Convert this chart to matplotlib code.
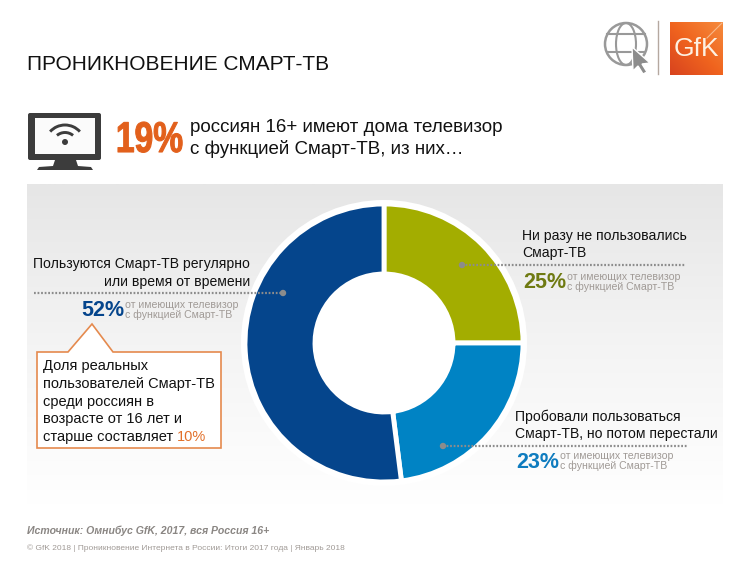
import numpy as np
import matplotlib
matplotlib.use('Agg')
import matplotlib.pyplot as plt
import matplotlib.patheffects as pe
from matplotlib.colors import LinearSegmentedColormap
from matplotlib.patches import Rectangle, Circle, Polygon, FancyBboxPatch, Ellipse, Arc
from matplotlib.transforms import Affine2D

plt.rcParams['font.family'] = ['Liberation Sans', 'DejaVu Sans']

segment_names = ['Ни разу не пользовались', 'Пробовали пользоваться', 'Пользуются регулярно']
segment_values = [25, 23, 52]
segment_colors = ['#a3ad00', '#0083c4', '#05458c']


class SqueezeX(pe.AbstractPathEffect):
    # no condensed bold font here, so squeeze the glyphs of a normal one
    def __init__(self, sx, dx, lw):
        super().__init__()
        self.sx = sx
        self.dx = dx
        self.lw = lw

    def draw_path(self, renderer, gc, tpath, affine, rgbFace=None):
        gc0 = renderer.new_gc()
        gc0.copy_properties(gc)
        gc0.set_linewidth(self.lw)
        gc0.set_foreground(rgbFace)
        squeezed = Affine2D().scale(self.sx, 1) + affine + Affine2D().translate(self.dx, 0)
        renderer.draw_path(gc0, tpath, squeezed, rgbFace)
        gc0.restore()


W, H = 750, 563
fig = plt.figure(figsize=(W / 100, H / 100), dpi=100, facecolor='white')

# pixel axes for all the decoration, y goes down like in the picture
bg = fig.add_axes([0, 0, 1, 1])

# grey panel fading to white
grad = np.linspace(0, 1, 256).reshape(-1, 1)
bg.imshow(grad, extent=(27, 723, 505, 184), aspect='auto', vmin=0, vmax=1, zorder=0,
          cmap=LinearSegmentedColormap.from_list('panel', ['#e6e6e6', '#f4f4f4', '#ffffff']))

# logo square
logo = np.linspace(0, 1, 64)[None, :] * 0.5 + np.linspace(1, 0, 64)[:, None] * 0.5
bg.imshow(logo, extent=(670, 723, 75, 22), aspect='auto', zorder=2, vmin=0, vmax=1,
          cmap=LinearSegmentedColormap.from_list('logo', ['#d8431f', '#f0641e', '#f58a3c']))
bg.set_xlim(0, W)
bg.set_ylim(H, 0)
bg.axis('off')
bg.plot([707, 722], [38, 23], color='#f8b98a', lw=0.8, zorder=3)
bg.text(696, 49, 'GfK', fontsize=19, color='#fdf1e2', va='center', ha='center', zorder=3)

bg.text(27, 64, 'ПРОНИКНОВЕНИЕ СМАРТ-ТВ', fontsize=15, color='#111111', va='center', ha='left')

# tv icon
dark = '#3c3c3c'
bg.add_patch(FancyBboxPatch((28, 113), 73, 47, boxstyle='round,pad=0,rounding_size=2', fc=dark, ec='none', zorder=2))
bg.add_patch(Rectangle((35, 118), 60, 36, fc='#fbfbfb', ec='none', zorder=3))
bg.add_patch(Polygon([(55, 160), (76, 160), (78, 166), (91, 167), (93, 170), (37, 170), (39, 167), (53, 166)],
                     fc=dark, ec='none', zorder=2))
bg.add_patch(Circle((65, 142), 3, fc=dark, ec='none', zorder=4))
bg.add_patch(Arc((65, 145), 40, 40, theta1=222, theta2=318, ec=dark, lw=2.1, zorder=4))
bg.add_patch(Arc((65, 145), 25, 25, theta1=230, theta2=310, ec=dark, lw=2.1, zorder=4))

# headline
bg.text(185, 141, '19%', fontsize=31, fontweight='bold', color='#e2601c', va='center', ha='right',
        path_effects=[SqueezeX(0.78, 17, 0.8)])
bg.text(190, 127, 'россиян 16+ имеют дома телевизор', fontsize=13.5, color='#111111', va='center')
bg.text(190, 149, 'с функцией Смарт-ТВ, из них…', fontsize=13.5, color='#111111', va='center')

# globe + cursor
gc = '#999999'
bg.add_patch(Circle((626, 44), 21, fc='none', ec=gc, lw=1.8, zorder=2))
bg.add_patch(Ellipse((626, 44), 20, 42, fc='none', ec=gc, lw=1.5, zorder=2))
bg.plot([607, 645], [34, 34], color=gc, lw=1.5, zorder=2)
bg.plot([607, 645], [52, 52], color=gc, lw=1.5, zorder=2)
bg.add_patch(Polygon([(632, 47), (650, 63), (642, 64), (647, 72), (643, 74), (638, 66), (633, 71)],
                     fc='#8c8c8c', ec='white', lw=1, zorder=3))
bg.plot([658, 658], [21, 74], color='#b5a8a0', lw=1, zorder=2)

# donut, radius 139 px around (384, 343)
cx, cy, half = 384, 343, 150
ax = fig.add_axes([(cx - half) / W, 1 - (cy + half) / H, 2 * half / W, 2 * half / H])
ax.set_facecolor('none')
ax.add_patch(Circle((0, 0), 143 / 139, fc='white', ec='none', zorder=0))
ax.pie(segment_values, colors=segment_colors, startangle=90, counterclock=False, radius=1,
       wedgeprops=dict(width=70 / 139, edgecolor='white', linewidth=3.5))
ax.set_xlim(-half / 139, half / 139)
ax.set_ylim(-half / 139, half / 139)
ax.set_aspect('equal')

# overlay for the leaders and labels
fg = fig.add_axes([0, 0, 1, 1])
fg.set_xlim(0, W)
fg.set_ylim(H, 0)
fg.axis('off')
fg.patch.set_alpha(0)

dot = '#8c8c8c'
for x0, x1, y, xd in [(34, 284, 293, 283), (462, 686, 265, 462), (443, 688, 446, 443)]:
    fg.plot([x0, x1], [y, y], color=dot, lw=1.6, ls=(0, (0.8, 0.8)))
    fg.add_patch(Circle((xd, y), 3.2, fc=dot, ec='none'))

label_fs = 10.1
fg.text(250, 264, 'Пользуются Смарт-ТВ регулярно', fontsize=label_fs, ha='right', va='center', color='#111111')
fg.text(250, 282, 'или время от времени', fontsize=label_fs, ha='right', va='center', color='#111111')
fg.text(522, 236, 'Ни разу не пользовались', fontsize=label_fs, va='center', color='#111111')
fg.text(522, 253, 'Смарт-ТВ', fontsize=label_fs, va='center', color='#111111')
fg.text(515, 417, 'Пробовали пользоваться', fontsize=label_fs, va='center', color='#111111')
fg.text(515, 434, 'Смарт-ТВ, но потом перестали', fontsize=label_fs, va='center', color='#111111')

sub1, sub2 = 'от имеющих телевизор', 'с функцией Смарт-ТВ'
sub_c = '#a09a96'
for pct, color, x, y, xs in [('52%', '#05458c', 81, 311, 125), ('25%', '#6f7a12', 523, 283, 567),
                             ('23%', '#0f7cbf', 516, 462, 560)]:
    fg.text(x, y, pct, fontsize=15.5, fontweight='bold', color=color, va='center')
    fg.text(xs, y - 6, sub1, fontsize=7.6, color=sub_c, va='center')
    fg.text(xs, y + 4, sub2, fontsize=7.6, color=sub_c, va='center')

# callout
co = '#e58a4e'
fg.add_patch(Polygon([(37, 352), (68, 352), (92, 324), (113, 352), (221, 352), (221, 448), (37, 448)],
                     fc='white', ec=co, lw=1.2))
callout_lines = ['Доля реальных', 'пользователей Смарт-ТВ', 'среди россиян в', 'возрасте от 16 лет и',
                 'старше составляет']
for line, y in zip(callout_lines, [366, 384, 402, 419, 437]):
    fg.text(43, y, line, fontsize=10.5, va='center', color='#111111')
fg.text(177, 437, '10%', fontsize=10.5, va='center', color='#e2702a')

# footer
fg.text(27, 531, 'Источник: Омнибус GfK, 2017, вся Россия 16+', fontsize=7.6, fontweight='bold', fontstyle='italic',
        color='#8a8683', va='center')
fg.text(27, 548, '© GfK 2018 | Проникновение Интернета в России: Итоги 2017 года | Январь 2018', fontsize=6.0,
        color='#a09a96', va='center')

fig.savefig('out.png', dpi=100)
